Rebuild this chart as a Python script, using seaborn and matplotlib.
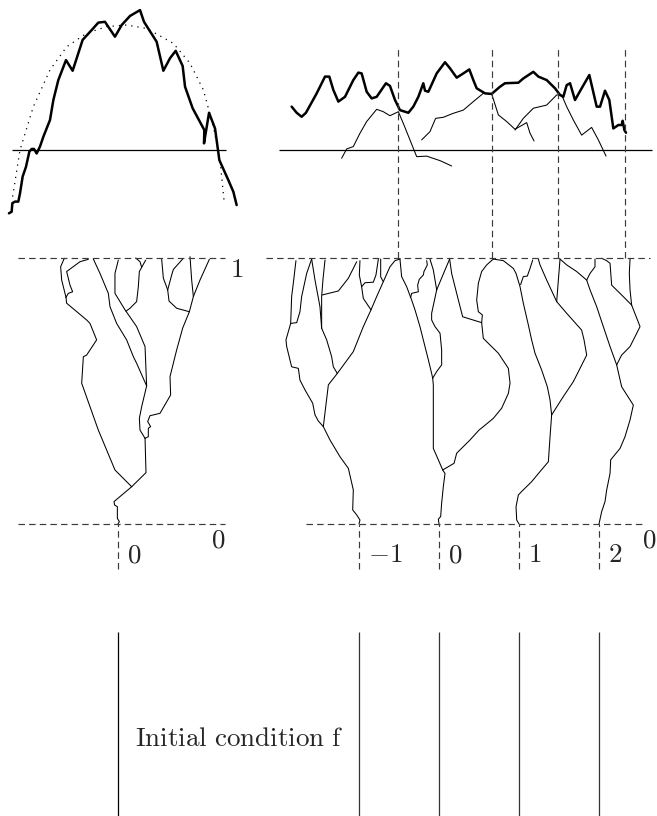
import pandas as pd
import seaborn as sns
import matplotlib.pyplot as plt

# --- dados ---
# espaco: 1 unidade = distancia entre os rotulos -1, 0, 1, 2
# tempo: 0 = linha tracejada de baixo, 1 = linha tracejada de cima
# curvas do topo: altura medida a partir da linha de base (mesma escala do tempo)

left_top_curve = [(-1.363, -0.238), (-1.329, -0.232), (-1.321, -0.2), (-1.288, -0.194), (-1.246, -0.194),
                  (-1.225, -0.163), (-1.192, -0.1), (-1.15, -0.063), (-1.108, -0.006), (-1.079, 0.004),
                  (-1.05, 0.004), (-1.017, -0.013), (-0.975, 0.013), (-0.933, 0.05), (-0.85, 0.113),
                  (-0.808, 0.188), (-0.746, 0.263), (-0.65, 0.338), (-0.567, 0.298), (-0.442, 0.414),
                  (-0.329, 0.451), (-0.246, 0.479), (-0.163, 0.482), (-0.038, 0.426), (0.046, 0.470),
                  (0.15, 0.504), (0.275, 0.526), (0.325, 0.482), (0.483, 0.407), (0.567, 0.298),
                  (0.65, 0.345), (0.721, 0.373), (0.808, 0.316), (0.838, 0.238), (0.933, 0.157),
                  (1.079, 0.075), (1.075, 0.025), (1.138, 0.140), (1.213, 0.081), (1.267, -0.038),
                  (1.379, -0.113), (1.442, -0.157), (1.483, -0.207)]

left_top_dotted = [(-1.317, -0.175), (-1.225, 0.0), (-1.058, 0.163), (-0.85, 0.301), (-0.642, 0.388),
                   (-0.392, 0.439), (-0.142, 0.464), (0.108, 0.470), (0.358, 0.457), (0.692, 0.401),
                   (0.9, 0.326), (1.067, 0.226), (1.192, 0.088), (1.275, -0.038), (1.325, -0.188)]

right_top_curve = [(-1.842, 0.163), (-1.779, 0.140), (-1.717, 0.125), (-1.663, 0.140), (-1.529, 0.213),
                   (-1.425, 0.276), (-1.371, 0.276), (-1.321, 0.226), (-1.258, 0.182), (-1.175, 0.2),
                   (-1.071, 0.263), (-1.008, 0.291), (-0.967, 0.288), (-0.904, 0.219), (-0.842, 0.194),
                   (-0.779, 0.2), (-0.663, 0.251), (-0.613, 0.241), (-0.55, 0.188), (-0.488, 0.150),
                   (-0.383, 0.140), (-0.321, 0.163), (-0.258, 0.2), (-0.196, 0.251), (-0.175, 0.223),
                   (-0.133, 0.219), (-0.029, 0.288), (0.075, 0.330), (0.138, 0.307), (0.221, 0.272),
                   (0.304, 0.288), (0.379, 0.303), (0.429, 0.263), (0.471, 0.232), (0.575, 0.213),
                   (0.658, 0.211), (0.763, 0.238), (0.825, 0.251), (0.992, 0.253), (1.054, 0.269),
                   (1.179, 0.294), (1.242, 0.276), (1.346, 0.263), (1.45, 0.232), (1.513, 0.207),
                   (1.554, 0.2), (1.596, 0.244), (1.638, 0.251), (1.7, 0.188), (1.783, 0.232),
                   (1.879, 0.282), (1.971, 0.163), (2.013, 0.163), (2.075, 0.223), (2.129, 0.188),
                   (2.179, 0.081), (2.242, 0.094), (2.283, 0.094), (2.296, 0.110), (2.317, 0.075),
                   (2.338, 0.065)]

right_top_thin = [
    [(-1.217, -0.031), (-1.154, 0.004), (-1.071, 0.013), (-0.988, 0.063), (-0.904, 0.107), (-0.779, 0.153),
     (-0.696, 0.144), (-0.613, 0.129), (-0.508, 0.144), (-0.446, 0.1), (-0.363, 0.038), (-0.279, -0.025),
     (-0.154, -0.023), (0.013, -0.040), (0.158, -0.060)],
    [(-0.217, 0.038), (-0.113, 0.069), (-0.042, 0.119), (0.054, 0.123), (0.179, 0.138), (0.304, 0.150),
     (0.429, 0.182), (0.554, 0.213), (0.658, 0.211), (0.742, 0.132), (0.846, 0.107), (0.95, 0.078),
     (1.096, 0.103), (1.138, 0.063), (1.188, 0.034)],
    [(0.95, 0.075), (1.054, 0.119), (1.179, 0.157), (1.346, 0.169), (1.471, 0.207), (1.533, 0.207),
     (1.596, 0.163), (1.679, 0.113), (1.783, 0.056), (1.908, 0.085), (1.992, 0.038), (2.088, -0.023)],
]

left_tree = [
    [(0.0, 0.0), (0.017, 0.009), (-0.008, 0.021), (-0.008, 0.065), (-0.042, 0.071), (-0.05, 0.084),
     (0.025, 0.103), (0.171, 0.140)],
    [(0.171, 0.140), (-0.038, 0.203), (-0.246, 0.353), (-0.454, 0.529), (-0.433, 0.629), (-0.392, 0.635),
     (-0.267, 0.692), (-0.35, 0.754), (-0.392, 0.767), (-0.642, 0.830), (-0.65, 0.852)],
    [(-0.65, 0.852), (-0.704, 0.917), (-0.717, 0.967), (-0.671, 0.999)],
    [(-0.65, 0.852), (-0.621, 0.867), (-0.567, 0.873), (-0.6, 0.898), (-0.642, 0.949), (-0.475, 0.986),
     (-0.371, 0.995)],
    [(0.171, 0.140), (0.35, 0.193), (0.338, 0.322)],
    [(0.338, 0.322), (0.275, 0.353), (0.267, 0.397), (0.296, 0.441), (0.358, 0.519)],
    [(0.358, 0.519), (0.233, 0.604), (0.192, 0.629), (0.108, 0.692), (-0.017, 0.754), (-0.1, 0.817),
     (-0.121, 0.867), (-0.225, 0.942), (-0.308, 0.996)],
    [(0.358, 0.519), (0.338, 0.667), (0.233, 0.742), (0.088, 0.805), (-0.038, 0.867), (-0.038, 0.942),
     (0.004, 0.992)],
    [(0.10, 0.80), (0.15, 0.811), (0.233, 0.836), (0.254, 0.892), (0.267, 0.949), (0.296, 0.965),
     (0.346, 0.992)],
    [(0.296, 0.965), (0.275, 0.986), (0.221, 1.0)],
    [(0.338, 0.322), (0.379, 0.328), (0.379, 0.360), (0.408, 0.366), (0.371, 0.385), (0.4, 0.407),
     (0.525, 0.416), (0.658, 0.485), (0.65, 0.554), (0.733, 0.654), (0.808, 0.736), (0.892, 0.798)],
    [(0.892, 0.798), (0.942, 0.855), (1.025, 0.917), (1.142, 0.995)],
    [(0.942, 0.855), (0.921, 0.917), (0.9, 1.005)],
    [(0.892, 0.798), (0.733, 0.811), (0.638, 0.838), (0.621, 0.880)],
    [(0.621, 0.880), (0.567, 0.924), (0.546, 0.995)],
    [(0.621, 0.880), (0.671, 0.936), (0.692, 0.957), (0.808, 0.996)],
]

right_tree = [
    [(-1.0, 0.0), (-0.988, 0.015), (-1.029, 0.034), (-1.079, 0.053), (-1.071, 0.128), (-1.133, 0.209),
     (-1.238, 0.253), (-1.363, 0.316), (-1.446, 0.366)],
    [(-1.446, 0.366), (-1.508, 0.387), (-1.55, 0.410), (-1.579, 0.454), (-1.675, 0.504), (-1.738, 0.541),
     (-1.758, 0.585), (-1.842, 0.591), (-1.904, 0.667), (-1.913, 0.692), (-1.854, 0.754)],
    [(-1.854, 0.754), (-1.842, 0.855), (-1.821, 0.905), (-1.788, 0.990)],
    [(-1.854, 0.754), (-1.779, 0.757), (-1.738, 0.798), (-1.717, 0.855), (-1.654, 0.942), (-1.592, 0.996)],
    [(-1.446, 0.366), (-1.383, 0.523), (-1.271, 0.566)],
    [(-1.271, 0.566), (-1.321, 0.591), (-1.342, 0.629), (-1.404, 0.692), (-1.467, 0.736)],
    [(-1.467, 0.736), (-1.488, 0.817), (-1.55, 0.917), (-1.592, 0.996)],
    [(-1.467, 0.736), (-1.467, 0.855), (-1.45, 0.92), (-1.425, 0.992)],
    [(-1.46, 0.861), (-1.258, 0.876), (-1.133, 0.924), (-1.029, 0.986)],
    [(-1.271, 0.566), (-1.071, 0.648), (-0.946, 0.742), (-0.85, 0.805), (-0.779, 0.855), (-0.696, 0.911),
     (-0.613, 0.967), (-0.55, 0.990), (-0.488, 0.996)],
    [(-0.85, 0.805), (-0.946, 0.848), (-0.967, 0.892), (-0.996, 0.936), (-0.988, 0.990)],
    [(-0.967, 0.892), (-0.925, 0.907), (-0.821, 0.909), (-0.788, 0.936), (-0.758, 0.996)],
    [(-0.696, 0.911), (-0.729, 0.929), (-0.729, 0.996)],
    [(0.0, 0.0), (-0.008, 0.018), (0.021, 0.028), (0.033, 0.078), (0.054, 0.140), (0.075, 0.190),
     (0.046, 0.203)],
    [(0.046, 0.203), (-0.008, 0.241), (-0.071, 0.284), (-0.071, 0.523), (-0.079, 0.548)],
    [(-0.079, 0.548), (-0.092, 0.566), (-0.133, 0.617), (-0.175, 0.667), (-0.238, 0.742), (-0.3, 0.805),
     (-0.342, 0.842), (-0.404, 0.892), (-0.467, 0.930), (-0.488, 0.996)],
    [(-0.354, 0.852), (-0.342, 0.867), (-0.258, 0.873), (-0.267, 0.898), (-0.246, 0.920), (-0.196, 0.936),
     (-0.188, 0.949), (-0.146, 0.974), (-0.154, 0.990)],
    [(-0.079, 0.548), (-0.029, 0.573), (0.033, 0.598), (0.033, 0.654), (0.013, 0.717), (-0.05, 0.742),
     (-0.092, 0.767), (-0.092, 0.792), (-0.029, 0.880)],
    [(-0.029, 0.880), (-0.071, 0.955), (-0.113, 0.996)],
    [(-0.029, 0.880), (0.075, 0.955), (0.133, 0.996)],
    [(0.046, 0.203), (0.188, 0.228), (0.221, 0.266), (0.388, 0.316), (0.5, 0.353), (0.554, 0.366),
     (0.679, 0.397), (0.783, 0.435), (0.867, 0.491), (0.888, 0.529), (0.867, 0.585), (0.742, 0.642),
     (0.617, 0.679), (0.554, 0.698), (0.533, 0.757)],
    [(0.533, 0.757), (0.296, 0.779), (0.242, 0.842), (0.2, 0.892), (0.158, 0.942), (0.133, 0.996)],
    [(0.533, 0.757), (0.542, 0.786), (0.492, 0.798), (0.471, 0.842), (0.492, 0.905), (0.533, 0.949),
     (0.596, 0.974), (0.679, 0.996)],
    [(1.0, 0.0), (0.971, 0.015), (0.963, 0.065), (0.992, 0.109), (1.033, 0.122), (1.158, 0.159),
     (1.263, 0.197), (1.367, 0.234), (1.388, 0.328), (1.408, 0.410)],
    [(1.408, 0.410), (1.388, 0.466), (1.354, 0.516), (1.283, 0.579), (1.2, 0.642), (1.158, 0.692),
     (1.117, 0.748), (1.054, 0.830), (1.013, 0.892), (0.963, 0.942), (0.929, 0.961), (0.804, 0.990),
     (0.679, 0.996)],
    [(1.02, 0.90), (1.054, 0.930), (1.104, 0.932), (1.138, 0.961), (1.171, 0.992)],
    [(1.408, 0.410), (1.554, 0.479), (1.679, 0.535), (1.763, 0.585), (1.846, 0.635), (1.813, 0.692),
     (1.783, 0.729), (1.596, 0.792), (1.471, 0.836)],
    [(1.471, 0.836), (1.346, 0.917), (1.263, 0.974), (1.242, 0.996)],
    [(1.471, 0.836), (1.492, 0.917), (1.513, 0.996)],
    [(2.0, 0.0), (2.033, 0.046), (2.075, 0.084), (2.096, 0.128), (2.138, 0.190), (2.146, 0.241),
     (2.263, 0.284), (2.325, 0.328), (2.388, 0.391), (2.429, 0.447), (2.283, 0.516), (2.221, 0.598)],
    [(2.221, 0.598), (2.138, 0.667), (2.054, 0.742), (1.971, 0.817), (1.888, 0.880), (1.846, 0.917)],
    [(1.846, 0.917), (1.721, 0.949), (1.596, 0.974), (1.513, 0.996)],
    [(1.846, 0.917), (1.888, 0.942), (1.95, 0.967), (1.95, 0.996)],
    [(2.221, 0.598), (2.283, 0.635), (2.388, 0.667), (2.45, 0.704), (2.513, 0.742), (2.408, 0.823)],
    [(2.408, 0.823), (2.283, 0.861), (2.158, 0.898), (2.138, 0.980), (2.096, 0.990), (2.033, 0.999)],
    [(2.408, 0.823), (2.388, 0.880), (2.379, 0.942), (2.388, 0.996)],
]

left_ticks = [0]
right_ticks = [-1, 0, 1, 2]
right_tick_labels = [r'$-1$', r'$0$', r'$1$', r'$2$']
right_peaks = [-0.51, 0.66, 1.49, 2.32]
caption = r'$\mathrm{Initial\ condition\ f}$'

# --- estilo ---
sns.set_theme(style='white')
plt.rcParams['mathtext.fontset'] = 'cm'
plt.rcParams['font.family'] = ['DejaVu Serif']

TOP_BASE = 1.406   # altura da linha de base das curvas do topo
FS = 19.5
dashed = dict(color='#3a3a3a', lw=0.85, ls=(0, (5.5, 3.5)))
thin = dict(color='black', lw=0.75)


def draw_path(ax, pts, dy=0.0, **kw):
    df = pd.DataFrame(pts, columns=['x', 'y'])
    df['y'] = df['y'] + dy
    sns.lineplot(data=df, x='x', y='y', sort=False, estimator=None, ax=ax, **kw)


fig = plt.figure(figsize=(6.57, 8.16), dpi=100)
split = 262 / 657
ax_l = fig.add_axes([0, 0, split, 1])
ax_r = fig.add_axes([split, 0, 1 - split, 1])

# painel esquerdo
draw_path(ax_l, left_top_curve, TOP_BASE, color='black', lw=1.8)
draw_path(ax_l, left_top_dotted, TOP_BASE, color='black', lw=0.9, ls=(0, (1, 4)))
ax_l.hlines(TOP_BASE, -1.325, 1.35, color='black', lw=0.9)
for p in left_tree:
    draw_path(ax_l, p, **thin)
ax_l.hlines([0, 1], -1.25, 1.3375, **dashed)
ax_l.vlines(left_ticks, -0.17, 0, **dashed)
ax_l.vlines(left_ticks, -1.1, -0.406, color='black', lw=0.9)
ax_l.text(1.40, 0.955, r'$1$', fontsize=FS, ha='left', va='center')
ax_l.text(1.16, -0.06, r'$0$', fontsize=FS, ha='left', va='center')
for k in left_ticks:
    ax_l.text(k + 0.11, -0.115, r'$0$', fontsize=FS, ha='left', va='center')
ax_l.text(1.5125, -0.805, caption, fontsize=FS, ha='center', va='center')

# painel direito
draw_path(ax_r, right_top_curve, TOP_BASE, color='black', lw=1.8)
for p in right_top_thin:
    draw_path(ax_r, p, TOP_BASE, **thin)
ax_r.hlines(TOP_BASE, -2.0, 2.66, color='black', lw=0.9)
for p in right_tree:
    draw_path(ax_r, p, **thin)
ax_r.hlines(1, -2.1625, 2.6375, **dashed)
ax_r.hlines(0, -1.6625, 2.575, **dashed)
ax_r.vlines(right_peaks, 1.0, 1.789, **dashed)
ax_r.vlines(right_ticks, -0.17, 0, **dashed)
ax_r.vlines(right_ticks, -1.1, -0.406, color='#333333', lw=0.9)
for k, lab in zip(right_ticks, right_tick_labels):
    ax_r.text(k + 0.11, -0.115, lab, fontsize=FS, ha='left', va='center')
ax_r.text(2.54, -0.06, r'$0$', fontsize=FS, ha='left', va='center')
ax_r.text(2.70, 0.962, r'$1$', fontsize=FS, ha='left', va='center')

ax_l.set_xlim(-1.475, 1.8)
ax_r.set_xlim(-2.2125, 2.725)
for ax in (ax_l, ax_r):
    ax.set_ylim(-1.098, 1.970)
    ax.set_facecolor('none')
    ax.axis('off')

plt.savefig('out.png', dpi=100)
